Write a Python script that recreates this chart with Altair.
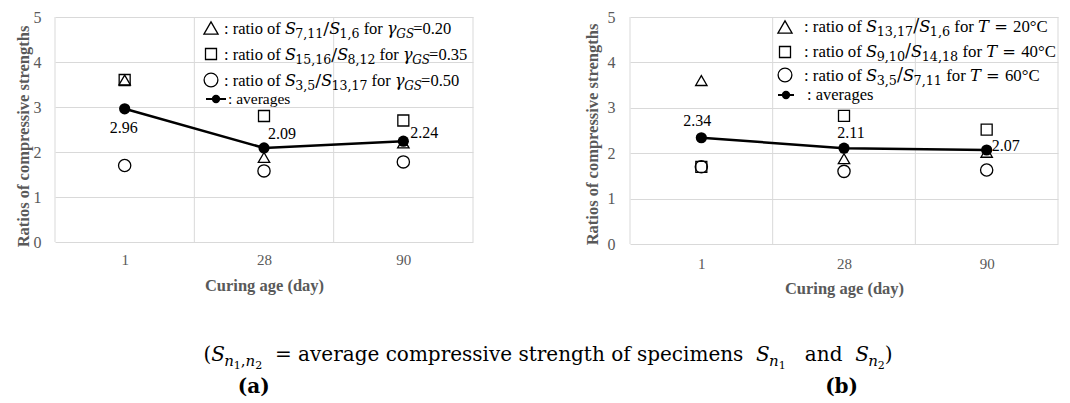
import altair as alt
import pandas as pd

# ---------------- data ----------------
ages = ["1", "28", "90"]

a_triangle = [3.60, 1.88, 2.20]
a_square = [3.60, 2.80, 2.70]
a_circle = [1.70, 1.58, 1.78]
a_average = [2.96, 2.09, 2.24]

b_triangle = [3.60, 1.88, 2.02]
b_square = [1.70, 2.82, 2.52]
b_circle = [1.70, 1.60, 1.63]
b_average = [2.34, 2.11, 2.07]

a_ratio_subs = [("7,11", "1,6"), ("15,16", "8,12"), ("3,5", "13,17")]
a_gamma = ["0.20", "0.35", "0.50"]
b_ratio_subs = [("13,17", "1,6"), ("9,10", "14,18"), ("3,5", "7,11")]
b_temp = ["20°C", "40°C", "60°C"]

x_title = "Curing age (day)"
y_title = "Ratios of compressive strengths"
panel_tags = ["(a)", "(b)"]

# ---------------- font metrics (em) for rich-text layout ----------------
TR = {" ": .25, "(": .333, ")": .333, ",": .25, ".": .25, "/": .278, ":": .278, "=": .564, "°": .4,
      "a": .444, "b": .5, "c": .444, "d": .5, "e": .444, "f": .333, "g": .5, "h": .5, "i": .278,
      "l": .278, "m": .778, "n": .5, "o": .5, "p": .5, "r": .333, "s": .389, "t": .278, "u": .5,
      "v": .5, "y": .5, "C": .667, "S": .556, "T": .611, "0": .5}
DR = {" ": .318, "(": .39, ")": .39, ",": .318, ".": .318, "/": .337, "=": .838, "°": .5,
      "a": .596, "c": .56, "d": .64, "e": .592, "f": .37, "g": .64, "h": .644, "i": .32,
      "m": .948, "n": .644, "o": .602, "p": .64, "r": .478, "s": .513, "t": .402, "v": .565, "0": .636}
DI = {" ": .318, "S": .65, "T": .67, "G": .75, "γ": .58, "n": .644, "0": .636}
DB = {" ": .348, "(": .473, ")": .473, "a": .675, "b": .74, "0": .696}
TABLES = {"tr": TR, "mr": DR, "mi": DI, "cb": DB}
FONTS = {"tr": ("Liberation Serif", "normal", "normal"),
         "mr": ("DejaVu Serif", "normal", "normal"),
         "mi": ("DejaVu Serif", "italic", "normal"),
         "cb": ("DejaVu Serif", "normal", "bold")}


def cw(ch, f):
    t = TABLES[f]
    if ch.isdigit():
        return t["0"]
    return t.get(ch, 0.55)


def text_width(segs):
    return sum(sum(cw(c, f) for c in txt) * s for txt, f, s, d in segs)


def layout(segs, x0, y0):
    rows, x = [], x0
    for txt, f, s, drop in segs:
        lead = len(txt) - len(txt.lstrip(" "))
        rows.append(dict(t=txt.strip(" "), f=f, s=s, x=x + lead * cw(" ", f) * s, y=y0 + drop))
        x += sum(cw(c, f) for c in txt) * s
    return rows


def ratio_line(num, den, kind, val, fs):
    sub = fs * 0.76
    segs = [(": ratio of ", "tr", fs, 0), ("S", "mi", fs - 0.5, 0), (num, "mr", sub, 4),
            ("/", "mr", fs + 1, 0), ("S", "mi", fs - 0.5, 0), (den, "mr", sub, 4),
            (" for ", "tr", fs, 0)]
    if kind == "gs":
        segs += [("γ", "mi", fs - 0.5, 0), ("GS", "mi", sub - 0.5, 4), ("=" + val, "tr", fs, 0)]
    else:
        segs += [("T", "mi", fs - 0.5, 0), (" = ", "mr", fs - 0.5, 0), (val, "tr", fs, 0)]
    return segs


label_expr = "[" + ",".join("'%s'" % a for a in ages) + "][floor(datum.value)]"


def text_layers(rows, X, Y):
    df = pd.DataFrame(rows)
    out = []
    for key, (font, style, weight) in FONTS.items():
        sub = df[df["f"] == key]
        if sub.empty:
            continue
        out.append(alt.Chart(sub).mark_text(align="left", baseline="alphabetic", font=font,
                                            fontStyle=style, fontWeight=weight, color="black")
                   .encode(x=X, y=Y, text="t:N", size=alt.Size("s:Q", scale=None)))
    return out


def panel(tri, sq, circ, avg, legend_segs, g):
    W, H = g["W"], g["H"]
    ppx, ppy = W / 3.0, H / 5.0
    tx = lambda px: px / ppx
    ty = lambda py: 5 - py / ppy
    X = alt.X("x:Q", scale=alt.Scale(domain=[0, 3], nice=False, zero=False),
              axis=alt.Axis(values=[0.5, 1.5, 2.5], labelExpr=label_expr, grid=False, ticks=False,
                            tickSize=0, domain=False, title=x_title, labelPadding=g["xlp"],
                            titlePadding=g["xtp"], labelFontSize=15))
    Y = alt.Y("y:Q", scale=alt.Scale(domain=[0, 5], nice=False, zero=False),
              axis=alt.Axis(values=[0, 1, 2, 3, 4, 5], grid=True, gridColor="#d9d9d9", ticks=False,
                            tickSize=0, domain=False, title=y_title, labelPadding=g["ylp"],
                            titlePadding=g["ytp"], titleY=g["tY"], labelFontSize=16))
    pos = [i + 0.5 for i in range(len(ages))]
    layers = []
    layers.append(alt.Chart(pd.DataFrame({"x": [0, 1, 2, 3]}))
                  .mark_rule(color="#d9d9d9", strokeWidth=1).encode(x=X))
    for vals, shape, size in [(tri, "triangle-up", 130), (sq, "square", 121), (circ, "circle", 150)]:
        layers.append(alt.Chart(pd.DataFrame({"x": pos, "y": vals}))
                      .mark_point(shape=shape, filled=False, color="black", size=size,
                                  strokeWidth=1.3, opacity=1).encode(x=X, y=Y))
    avg_df = pd.DataFrame({"x": pos, "y": avg, "lab": ["%.2f" % v for v in avg], "i": [0, 1, 2]})
    layers.append(alt.Chart(avg_df).mark_line(color="black", strokeWidth=2.5).encode(x=X, y=Y))
    layers.append(alt.Chart(avg_df).mark_point(shape="circle", filled=True, color="black",
                                               size=125, opacity=1).encode(x=X, y=Y))
    for i, (al, dx, dy) in enumerate(g["labels"]):
        layers.append(alt.Chart(avg_df).transform_filter(alt.datum.i == i)
                      .mark_text(align=al, baseline="middle", dx=dx, dy=dy, font="Liberation Serif",
                                 fontSize=16, color="black")
                      .encode(x=X, y=Y, text="lab:N"))
    # legend symbols
    for k, (shape, size) in enumerate([("triangle-up", 200), ("square", 121), ("circle", 190)]):
        layers.append(alt.Chart(pd.DataFrame({"x": [tx(g["sym_x"])], "y": [ty(g["sym_y"][k])]}))
                      .mark_point(shape=shape, filled=False, color="black", size=size,
                                  strokeWidth=1.3, opacity=1).encode(x=X, y=Y))
    ax0, ax1, adot, ayc = g["avg_sym"]
    layers.append(alt.Chart(pd.DataFrame({"x": [tx(ax0)], "x2": [tx(ax1)], "y": [ty(ayc)]}))
                  .mark_rule(color="black", strokeWidth=2).encode(x=X, x2="x2:Q", y=Y))
    layers.append(alt.Chart(pd.DataFrame({"x": [tx(adot)], "y": [ty(ayc)]}))
                  .mark_point(shape="circle", filled=True, color="black", size=70, opacity=1)
                  .encode(x=X, y=Y))
    rows = []
    for k, segs in enumerate(legend_segs):
        rows += layout(segs, g["txt_x"][k], g["base"][k])
    for r in rows:
        r["x"], r["y"] = tx(r["x"]), ty(r["y"])
    layers += text_layers(rows, X, Y)
    return alt.layer(*layers).properties(width=W, height=H)


# ---------------- panel (a) ----------------
a_leg = [ratio_line(n, d, "gs", v, 16.5) for (n, d), v in zip(a_ratio_subs, a_gamma)]
a_leg.append([(": averages", "tr", 15.5, 0)])
ga = dict(W=418, H=225, xlp=10, xtp=10, ylp=14, ytp=2, tY=119,
          labels=[("center", -1, 19), ("left", 4, -14), ("left", 7, -8)],
          sym_x=156, sym_y=[11, 37, 63], avg_sym=(151, 171, 161, 82),
          txt_x=[169, 169, 169, 173], base=[17, 43, 69, 87])
pa = panel(a_triangle, a_square, a_circle, a_average, a_leg, ga)

# ---------------- panel (b) ----------------
b_leg = [ratio_line(n, d, "t", v, 16.8) for (n, d), v in zip(b_ratio_subs, b_temp)]
b_leg.append([(": averages", "tr", 16.5, 0)])
gb = dict(W=428, H=227, xlp=12, xtp=9, ylp=15, ytp=7, tY=117,
          labels=[("center", -4, -17), ("center", 7, -15), ("left", 5, -4)],
          sym_x=155, sym_y=[10, 35, 58], avg_sym=(148, 164, 156, 78),
          txt_x=[174, 174, 174, 177], base=[15, 40, 64, 83])
pb = panel(b_triangle, b_square, b_circle, b_average, b_leg, gb)

# ---------------- caption ----------------
CW, CH = 900, 60
cap_segs = [("(", "mr", 20, 0), ("S", "mi", 20, 0), ("n", "mi", 15, 5), ("1", "mr", 11, 8),
            (",", "mr", 15, 5), ("n", "mi", 15, 5), ("2", "mr", 11, 8),
            ("  = average compressive strength of specimens  ", "mr", 20, 0),
            ("S", "mi", 20, 0), ("n", "mi", 15, 5), ("1", "mr", 11, 8),
            ("   and  ", "mr", 20, 0),
            ("S", "mi", 20, 0), ("n", "mi", 15, 5), ("2", "mr", 11, 8), (")", "mr", 20, 0)]
cap_rows = layout(cap_segs, 493 - text_width(cap_segs) / 2, 60)
for tag, cx in zip(panel_tags, [199, 787]):
    seg = [(tag, "cb", 20, 0)]
    cap_rows += layout(seg, cx - text_width(seg) / 2, 92)
CX = alt.X("x:Q", scale=alt.Scale(domain=[0, CW], nice=False, zero=False), axis=None)
CY = alt.Y("y:Q", scale=alt.Scale(domain=[CH, 0], nice=False, zero=False), axis=None)
cap = alt.layer(*text_layers(cap_rows, CX, CY)).properties(width=CW, height=CH)

chart = (alt.vconcat(alt.hconcat(pa, pb, spacing=157, bounds="flush"), cap, spacing=284,
                     bounds="flush")
         .properties(padding={"left": 6, "top": 0, "right": 0, "bottom": 0}, background="white")
         .configure_view(stroke="transparent")
         .configure_axis(labelFont="Liberation Serif", titleFont="Liberation Serif",
                         labelColor="#595959", titleColor="#595959", titleFontSize=16.5,
                         titleFontWeight="bold"))

chart.save("out.html", embed_options={"renderer": "svg", "actions": False})
